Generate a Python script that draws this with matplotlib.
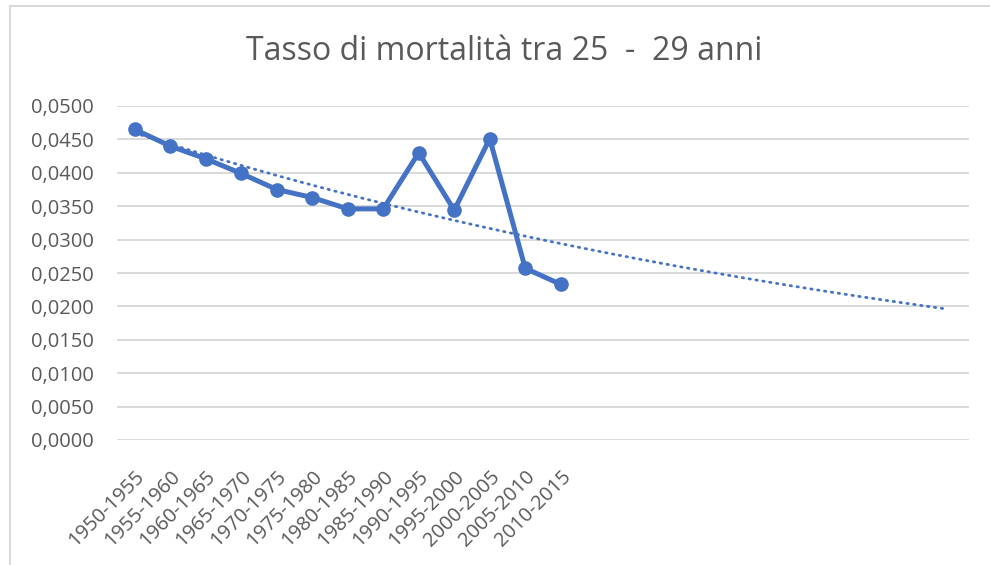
import numpy as np
import matplotlib
matplotlib.use('Agg')
import matplotlib.pyplot as plt
from matplotlib.lines import Line2D
from matplotlib.ticker import FuncFormatter, MultipleLocator


PERIODS = ['1950-1955', '1955-1960', '1960-1965', '1965-1970', '1970-1975',
           '1975-1980', '1980-1985', '1985-1990', '1990-1995', '1995-2000',
           '2000-2005', '2005-2010', '2010-2015']
MORTALITY = [0.0465, 0.0440, 0.0421, 0.0399, 0.0375, 0.0363, 0.0346,
             0.0346, 0.0430, 0.0344, 0.0451, 0.0257, 0.0233]
FORECAST_PERIODS = 11

BLUE = '#4472C4'
GRID = '#D9D9D9'
TEXT = '#595959'

plt.rcParams['font.family'] = ['Open Sans', 'DejaVu Sans']


def comma_fmt(v, pos):
    return f"{v:.4f}".replace('.', ',')


fig = plt.figure(figsize=(9.9, 5.65), dpi=100)
ax = fig.add_axes([117 / 990, 1 - 440 / 565, 852 / 990, 334 / 565])

x = np.arange(len(MORTALITY))
y = np.array(MORTALITY)

# exponential trendline (Excel style: linear fit of ln y), extended forward
b, ln_a = np.polyfit(x, np.log(y), 1)
xt = np.linspace(0, len(MORTALITY) - 1 + FORECAST_PERIODS - 0.1, 200)
yt = np.exp(ln_a + b * xt)
ax.plot(xt, yt, color=BLUE, lw=2.0, linestyle=(0, (0.5, 2.0)),
        dash_capstyle='round', zorder=2)

ax.plot(x, y, color=BLUE, lw=3.6, marker='o', markersize=9.5,
        solid_joinstyle='round', zorder=3)

n_cat = len(MORTALITY) + FORECAST_PERIODS
ax.set_xlim(-0.5, n_cat - 0.5)
ax.set_ylim(0, 0.05)
ax.yaxis.set_major_locator(MultipleLocator(0.005))
ax.yaxis.set_major_formatter(FuncFormatter(comma_fmt))
ax.grid(axis='y', color=GRID, lw=1.4)
ax.set_axisbelow(True)

ax.set_xticks(x)
ax.set_xticklabels(PERIODS, rotation=45, ha='right', va='top',
                   rotation_mode='anchor')
ax.tick_params(axis='x', length=0, pad=19, labelsize=14.5, labelcolor=TEXT)
ax.tick_params(axis='y', length=0, pad=17, labelsize=14.5, labelcolor=TEXT)

for s in ax.spines.values():
    s.set_visible(False)

fig.text(0.509, 1 - 52 / 565, 'Tasso di mortalità tra 25  -  29 anni',
         ha='center', va='center', fontsize=23, color=TEXT)

# chart area border (cropped: only top and left visible)
fig.add_artist(Line2D([10 / 990, 10 / 990], [0, 1 - 6 / 565],
                      color=GRID, lw=1.5, transform=fig.transFigure))
fig.add_artist(Line2D([10 / 990, 1], [1 - 6 / 565, 1 - 6 / 565],
                      color=GRID, lw=1.5, transform=fig.transFigure))

fig.savefig('out.png', dpi=100, facecolor='white')
